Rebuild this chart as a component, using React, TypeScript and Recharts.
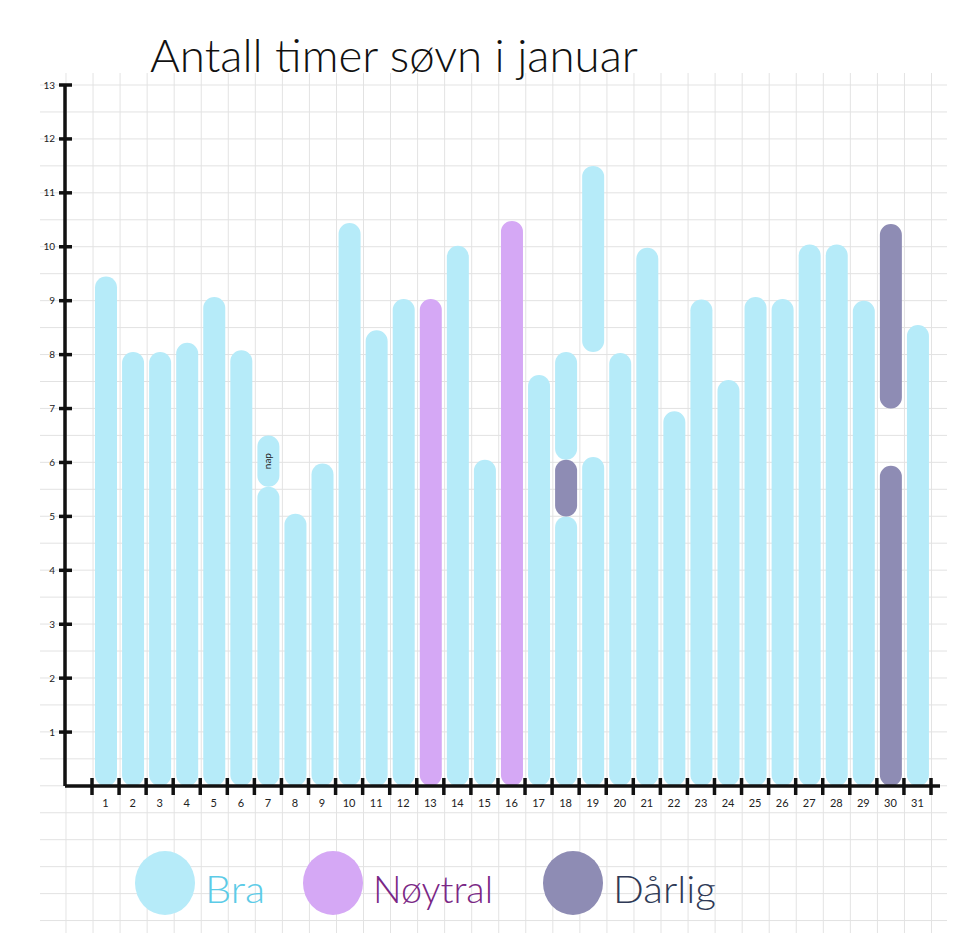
import React from 'react';
import { BarChart, Bar, XAxis, YAxis, Cell, LabelList } from 'recharts';

// ---- data ----
const days = ['1','2','3','4','5','6','7','8','9','10','11','12','13','14','15','16','17','18','19','20','21','22','23','24','25','26','27','28','29','30','31'];
const hourTicks = [1,2,3,4,5,6,7,8,9,10,11,12,13];

const qualities = ['Bra', 'Nøytral', 'Dårlig'];
const qualityFill: Record<string, string> = { 'Bra': '#b6ebf9', 'Nøytral': '#d5a8f5', 'Dårlig': '#8e8cb4' };
const qualityText: Record<string, string> = { 'Bra': '#5ccbe7', 'Nøytral': '#7a2785', 'Dårlig': '#2f3a56' };

// main sleep bar for each day (from 0)
const mainHours = [9.45, 8.05, 8.05, 8.22, 9.07, 8.08, 5.55, 5.05, 5.98, 10.44, 8.45, 9.03, 9.03, 10.02, 6.05, 10.48, 7.62, 5.0, 6.1, 8.03, 9.98, 6.95, 9.02, 7.53, 9.07, 9.03, 10.04, 10.04, 9.0, 5.94, 8.55];
const mainQuality = ['Bra','Bra','Bra','Bra','Bra','Bra','Bra','Bra','Bra','Bra','Bra','Bra','Nøytral','Bra','Bra','Nøytral','Bra','Bra','Bra','Bra','Bra','Bra','Bra','Bra','Bra','Bra','Bra','Bra','Bra','Dårlig','Bra'];

// extra sleep segments (upper layer)
const upperDays = ['7', '18', '19', '30'];
const upperFrom = [5.55, 6.05, 8.05, 7.0];
const upperTo = [6.5, 8.05, 11.5, 10.42];
const upperQuality = ['Bra', 'Bra', 'Bra', 'Dårlig'];
const upperNote = ['nap', '', '', ''];

// extra sleep segments (middle layer, drawn on top)
const middleDays = ['18'];
const middleFrom = [5.0];
const middleTo = [6.05];
const middleQuality = ['Dårlig'];

const rows = days.map((d, i) => {
  const u = upperDays.indexOf(d);
  const m = middleDays.indexOf(d);
  return {
    day: d,
    main: [0, mainHours[i]],
    mainQ: mainQuality[i],
    upper: u >= 0 ? [upperFrom[u], upperTo[u]] : null,
    upperQ: u >= 0 ? upperQuality[u] : 'Bra',
    note: u >= 0 ? upperNote[u] : '',
    middle: m >= 0 ? [middleFrom[m], middleTo[m]] : null,
    middleQ: m >= 0 ? middleQuality[m] : 'Bra',
  };
});

const INK = '#111';
const FONT = 'Lato, "Noto Sans", sans-serif';

// chart layout
const W = 973;
const H = 933;
const MARGIN = { top: 85, right: 33, left: 25, bottom: 117 };
const Y_AXIS_W = 40;
const PAD = { left: 27, right: 9 };
const BAND = (W - MARGIN.left - MARGIN.right - Y_AXIS_W - PAD.left - PAD.right) / days.length;

const HourTick = (props: any) => {
  const { x, y, payload } = props;
  return (
    <g>
      <line x1={x - 6} x2={x + 7} y1={y} y2={y} stroke={INK} strokeWidth={3.5} />
      <text x={x - 10} y={y} dy={3.5} textAnchor="end" fontSize={10} fontFamily={FONT} fill="#222">{payload.value}</text>
    </g>
  );
};

const DayTick = (props: any) => {
  const { x, y, payload, index } = props;
  const half = BAND / 2;
  const last = index === days.length - 1;
  return (
    <g>
      <line x1={x - half} x2={x - half} y1={y - 8} y2={y + 9} stroke={INK} strokeWidth={3.5} />
      {last && <line x1={x + half} x2={x + half} y1={y - 8} y2={y + 9} stroke={INK} strokeWidth={3.5} />}
      <text x={x} y={y + 21} textAnchor="middle" fontSize={11} fontFamily={FONT} fill="#222">{payload.value}</text>
    </g>
  );
};

const NoteLabel = (props: any) => {
  const { x, y, width, height, value } = props;
  if (!value) return null;
  const cx = x + width / 2;
  const cy = y + height / 2;
  return (
    <text x={cx} y={cy} dy={3} textAnchor="middle" fontSize={10} fontFamily={FONT} fill="#222" transform={`rotate(-90 ${cx} ${cy})`}>{value}</text>
  );
};

export default function App() {
  return (
    <div style={{ position: 'absolute', left: 0, top: 0, width: W, height: H, background: '#fff', overflow: 'hidden' }}>
      <div
        style={{
          position: 'absolute', left: 40, top: 73, width: 907, height: 860,
          backgroundImage: 'linear-gradient(to right, #e2e2e2 1px, transparent 1px), linear-gradient(to bottom, #e2e2e2 1px, transparent 1px)',
          backgroundSize: '27.06px 100%, 100% 26.96px',
          backgroundPosition: '25.5px 0, 0 11.5px',
        }}
      />
      <svg style={{ position: 'absolute', left: 0, top: 0 }} width={W} height={100}>
        <text x={150} y={72} fontSize={46} fontWeight={300} fontFamily={FONT} fill="#111" textLength={488} lengthAdjust="spacingAndGlyphs">Antall timer søvn i januar</text>
      </svg>
      <div style={{ position: 'absolute', left: 0, top: 0 }}>
        <BarChart width={W} height={H} data={rows} margin={MARGIN}>
          <XAxis xAxisId="a" dataKey="day" padding={PAD} interval={0} tickSize={0} tickMargin={0} tickLine={false}
            axisLine={{ stroke: INK, strokeWidth: 3.5 }} tick={<DayTick />} height={30} />
          <XAxis xAxisId="b" dataKey="day" padding={PAD} hide />
          <XAxis xAxisId="c" dataKey="day" padding={PAD} hide />
          <YAxis type="number" domain={[0, 13]} ticks={hourTicks} interval={0} width={Y_AXIS_W} tickSize={0} tickMargin={0}
            tickLine={false} axisLine={{ stroke: INK, strokeWidth: 3.5 }} tick={<HourTick />} allowDataOverflow />
          <Bar xAxisId="a" dataKey="main" barSize={22} radius={11} isAnimationActive={false}>
            {rows.map((r, i) => <Cell key={i} fill={qualityFill[r.mainQ]} />)}
          </Bar>
          <Bar xAxisId="b" dataKey="upper" barSize={22} radius={11} isAnimationActive={false}>
            {rows.map((r, i) => <Cell key={i} fill={qualityFill[r.upperQ]} />)}
            <LabelList dataKey="note" content={<NoteLabel />} />
          </Bar>
          <Bar xAxisId="c" dataKey="middle" barSize={22} radius={11} isAnimationActive={false}>
            {rows.map((r, i) => <Cell key={i} fill={qualityFill[r.middleQ]} />)}
          </Bar>
        </BarChart>
      </div>
      <svg style={{ position: 'absolute', left: 0, top: 840 }} width={W} height={93}>
        {qualities.map((q, i) => {
          const cx = [165, 333, 573][i];
          const tlen = [60, 120, 103][i];
          return (
            <g key={q}>
              <ellipse cx={cx} cy={43} rx={30} ry={32} fill={qualityFill[q]} />
              <text x={cx + 40} y={63} fontSize={38} fontWeight={300} fontFamily={FONT} fill={qualityText[q]} textLength={tlen} lengthAdjust="spacingAndGlyphs">{q}</text>
            </g>
          );
        })}
      </svg>
    </div>
  );
}
